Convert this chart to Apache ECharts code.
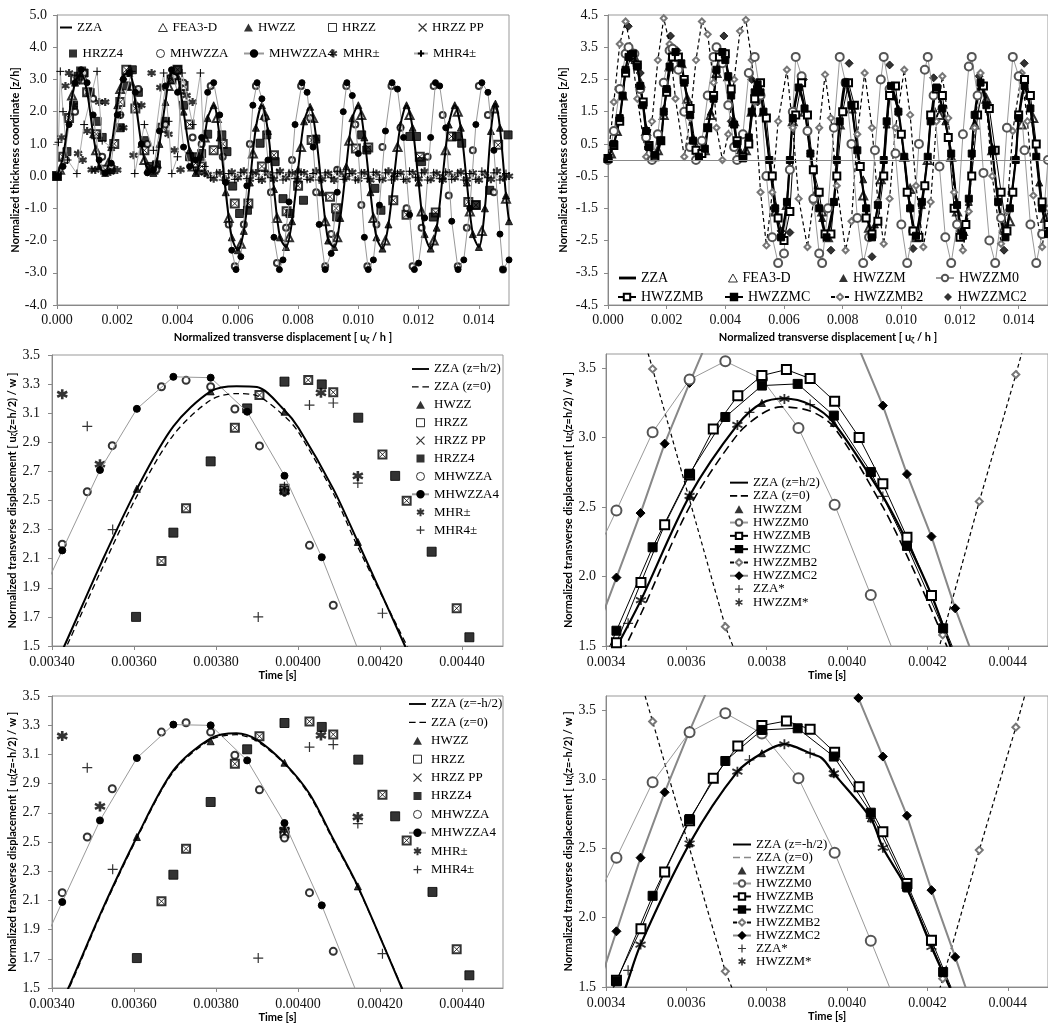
<!DOCTYPE html>
<html><head><meta charset="utf-8">
<script src="https://cdn.jsdelivr.net/npm/echarts@6/dist/echarts.min.js"></script>
<style>html,body{margin:0;padding:0;background:#fff}#c{width:1048px;height:1025px}</style>
</head><body><div id="c"></div>
<script>
// ---------------- DATA ----------------
// Panel 1 (top-left)
const p1_zza=[[0,0],[0.0002,0.6],[0.0004,1.9],[0.0006,2.9],[0.0008,3.2],[0.001,2.6],[0.0012,1.3],[0.0014,0.3],[0.0016,0.1],[0.0018,0.9],[0.002,2.2],[0.0022,3.1],[0.0024,3.2],[0.0026,2.3],[0.0028,1.0],[0.003,0.2],[0.0032,0.1],[0.0034,1.0],[0.0036,2.3],[0.0038,3.2],[0.004,3.1],[0.0042,2.0],[0.0044,0.8],[0.0046,0.1],[0.0048,0.6],[0.005,1.8],[0.0052,2.2],[0.0054,1.2],[0.0056,-0.5],[0.0058,-1.9],[0.006,-2.3],[0.0062,-1.7],[0.0064,-0.2],[0.0066,1.5],[0.0068,2.2],[0.007,1.4],[0.0072,-0.4],[0.0074,-1.9],[0.0076,-2.2],[0.0078,-1.4],[0.008,0.2],[0.0082,1.7],[0.0084,2.15],[0.0086,1.2],[0.0088,-0.5],[0.009,-2.0],[0.0092,-2.2],[0.0094,-1.3],[0.0096,0.3],[0.0098,1.8],[0.01,2.2],[0.0102,1.2],[0.0104,-0.5],[0.0106,-1.9],[0.0108,-2.25],[0.011,-1.5],[0.0112,0.1],[0.0114,1.6],[0.0116,2.2],[0.0118,1.5],[0.012,-0.2],[0.0122,-1.8],[0.0124,-2.25],[0.0126,-1.6],[0.0128,0.0],[0.013,1.6],[0.0132,2.2],[0.0134,1.5],[0.0136,-0.2],[0.0138,-1.8],[0.014,-2.2],[0.0142,-1.0],[0.0144,1.4],[0.01455,2.25],[0.0147,1.5],[0.0149,-0.6],[0.015,-1.4]];
const p1_fea=[[0.0001,0.2],[0.0005,2.5],[0.0009,3.0],[0.0013,0.8],[0.0017,0.4],[0.0021,2.7],[0.0025,2.8],[0.0029,0.5],[0.0033,0.4],[0.0037,2.8],[0.0041,2.7],[0.0045,0.3],[0.0049,1.2],[0.0053,1.8],[0.0057,-1.3],[0.0061,-2.1],[0.0065,0.7],[0.0069,1.9],[0.0073,-1.3],[0.0077,-1.9],[0.0081,0.9],[0.0085,1.8],[0.0089,-1.4],[0.0093,-1.9],[0.0097,1.1],[0.0101,1.9],[0.0105,-1.3],[0.0109,-2.0],[0.0113,0.9],[0.0117,1.9],[0.0121,-1.1],[0.0125,-2.0],[0.0129,0.8],[0.0133,2.0],[0.0137,-1.1],[0.0141,-1.7],[0.0145,2.1],[0.0149,-0.7]];
const p1_hrzz=[[0,0],[0.0002,0.6],[0.0004,1.8],[0.0006,3.0],[0.0008,3.25],[0.001,2.6],[0.0013,1.3],[0.0016,0.2],[0.0019,1.0],[0.0021,2.3],[0.0023,3.3],[0.0026,2.1],[0.0029,0.8],[0.0032,0.2],[0.0035,1.5],[0.0038,3.0],[0.004,3.3],[0.0042,2.8],[0.0044,1.6],[0.0046,0.4],[0.0048,0.3],[0.0052,0.8],[0.0055,1.0],[0.0059,-0.85],[0.00635,-0.85],[0.0068,0.3],[0.0072,0.65],[0.00762,-1.09],[0.008,-0.3],[0.00845,1.12],[0.00906,-0.64],[0.00926,-1.0],[0.00992,0.86],[0.01033,0.89],[0.01116,-0.75],[0.0116,-1.2],[0.01204,0.6],[0.01257,-1.13],[0.01309,1.23],[0.01365,-0.8],[0.0139,-0.9],[0.01464,0.97]];
const p1_hrzz4=[[0,0],[0.00033,0.76],[0.00055,2.2],[0.0007,3.1],[0.0009,3.2],[0.0011,2.6],[0.00133,1.7],[0.0015,1.2],[0.0018,0.2],[0.0021,1.5],[0.0023,2.8],[0.0025,3.3],[0.0027,2.6],[0.0029,1.1],[0.0031,0.3],[0.0033,0.35],[0.0036,1.7],[0.0038,3.0],[0.004,3.3],[0.0042,2.2],[0.0044,0.6],[0.0046,0.6],[0.0048,0.7],[0.005,1.3],[0.00547,1.28],[0.00564,0.76],[0.00583,-0.31],[0.00606,-1.16],[0.00632,-1.06],[0.00674,1.02],[0.00696,1.28],[0.00724,0.45],[0.0075,-0.7],[0.00773,-1.16],[0.00818,-0.75],[0.00859,1.15],[0.00928,-1.27],[0.01011,1.28],[0.01028,0.81],[0.01055,-0.38],[0.01075,-1.06],[0.01171,1.23],[0.01193,1.23],[0.0121,0.45],[0.01249,-1.27],[0.01326,1.23],[0.01343,1.02],[0.0139,-0.9],[0.01436,-0.44],[0.01497,1.28]];
const p1_mhwzza=[[0,0],[0.0003,0.5],[0.0006,2.0],[0.0009,3.2],[0.0012,2.4],[0.0015,0.6],[0.0018,0.3],[0.0021,1.9],[0.0024,3.2],[0.0027,2.7],[0.003,1.0],[0.0033,0.2],[0.0036,1.6],[0.0039,3.1],[0.0042,2.9],[0.0045,1.2],[0.0048,1.0],[0.0051,2.8],[0.0055,0.6],[0.0057,-1.5],[0.0059,-2.8],[0.0062,-1.5],[0.0064,1.0],[0.0066,2.8],[0.0069,1.8],[0.0071,-0.5],[0.0073,-2.7],[0.0076,-1.6],[0.0078,0.5],[0.0081,2.8],[0.0084,1.8],[0.0086,-0.5],[0.0089,-2.8],[0.0091,-1.8],[0.0093,0.2],[0.0096,2.8],[0.0099,1.6],[0.0101,-0.9],[0.0103,-2.8],[0.0106,-1.5],[0.0108,0.9],[0.0111,2.8],[0.0114,1.5],[0.0116,-1.0],[0.0118,-2.8],[0.0121,-1.6],[0.0123,0.6],[0.0125,2.8],[0.0128,1.9],[0.013,-0.6],[0.0133,-2.8],[0.0136,-1.6],[0.0138,0.8],[0.014,2.8],[0.0143,1.9],[0.0145,-0.5],[0.0148,-2.9]];
const p1_mhwzza4=[[0,0],[0.0002,0.3],[0.0004,1.6],[0.0006,2.9],[0.0008,3.3],[0.001,2.9],[0.0012,1.9],[0.0014,0.5],[0.0016,0.1],[0.0018,0.4],[0.002,1.9],[0.0022,3.0],[0.0024,3.2],[0.0026,2.6],[0.0028,1.0],[0.003,0.1],[0.0032,0.2],[0.0034,1.4],[0.0036,2.8],[0.0038,3.3],[0.004,2.6],[0.0042,0.9],[0.0044,0.3],[0.0046,0.5],[0.0048,1.2],[0.005,2.6],[0.0052,2.9],[0.0054,1.9],[0.0056,-0.2],[0.0058,-2.3],[0.00594,-2.9],[0.0061,-2.5],[0.0063,-0.3],[0.0065,2.2],[0.00664,2.9],[0.0068,2.4],[0.007,0.5],[0.0072,-1.9],[0.00738,-2.9],[0.0075,-2.6],[0.0077,-0.8],[0.0079,1.6],[0.00813,2.9],[0.0083,2.6],[0.0085,0.9],[0.0087,-1.5],[0.0089,-2.9],[0.0091,-2.4],[0.0093,-0.5],[0.0095,2.0],[0.00962,2.9],[0.0098,2.5],[0.01,0.7],[0.0102,-1.9],[0.01033,-2.9],[0.0105,-2.6],[0.0107,-0.9],[0.0109,1.4],[0.01112,2.9],[0.0113,2.7],[0.0115,1.2],[0.0117,-1.2],[0.01186,-2.9],[0.012,-2.7],[0.0122,-1.3],[0.0124,1.2],[0.01256,2.9],[0.0127,2.8],[0.0129,1.5],[0.0131,-1.4],[0.01331,-2.9],[0.0135,-2.6],[0.0137,-1.0],[0.0139,1.6],[0.0141,2.9],[0.0143,2.6],[0.0145,0.8],[0.0147,-1.8],[0.0148,-2.9],[0.015,-2.6]];
const p1_mhr=[[0,0],[0.00015,1.2],[0.00028,2.8],[0.0004,3.2],[0.00055,2.2],[0.0007,0.7],[0.00085,0.5],[0.001,1.4],[0.00115,0.2],[0.00127,0.19],[0.0014,2.3],[0.0016,2.3],[0.00177,0.13],[0.002,0.19],[0.0022,1.5],[0.00254,0.65],[0.0028,2.2],[0.00314,3.2],[0.00343,2.75],[0.0037,1.3],[0.0039,0.8],[0.0041,0.2],[0.0043,2.5],[0.0045,2.3],[0.0047,0.1],[0.0049,0.1],[0.005,0.05],[0.0052,-0.08],[0.0054,0.1],[0.0056,-0.1],[0.0058,0.12],[0.006,-0.05],[0.0062,0.15],[0.0064,-0.1],[0.0066,0.1],[0.0068,-0.12],[0.007,0.08],[0.0072,-0.1],[0.0074,0.15],[0.0076,-0.05],[0.0078,0.1],[0.008,-0.12],[0.0082,0.1],[0.0084,-0.08],[0.0086,0.15],[0.0088,-0.1],[0.009,0.08],[0.0092,-0.12],[0.0094,0.1],[0.0096,-0.05],[0.0098,0.12],[0.01,-0.1],[0.0102,0.1],[0.0104,-0.12],[0.0106,0.08],[0.0108,-0.1],[0.011,0.15],[0.0112,-0.05],[0.0114,0.1],[0.0116,-0.12],[0.0118,0.1],[0.012,-0.08],[0.0122,0.15],[0.0124,-0.1],[0.0126,0.08],[0.0128,-0.12],[0.013,0.1],[0.0132,-0.05],[0.0134,0.12],[0.0136,-0.1],[0.0138,0.1],[0.014,-0.12],[0.0142,0.08],[0.0144,-0.1],[0.0146,0.15],[0.0148,-0.05],[0.015,0.0]];
const p1_mhr4=[[0,0],[0.00005,1.05],[0.00011,3.25],[0.0002,2.0],[0.00035,0.5],[0.00066,0.08],[0.0009,1.6],[0.00133,3.25],[0.0015,1.1],[0.0018,0.9],[0.0021,1.9],[0.00248,3.25],[0.00258,0.08],[0.0029,1.6],[0.0032,0.8],[0.00354,3.2],[0.0037,1.7],[0.00381,0.08],[0.004,0.6],[0.00415,3.2],[0.0045,1.6],[0.00476,3.2],[0.0049,0.3],[0.0051,-0.05],[0.0053,0.1],[0.0055,-0.12],[0.0057,0.08],[0.0059,-0.1],[0.0061,0.12],[0.0063,-0.08],[0.0065,0.1],[0.0067,-0.1],[0.0069,0.15],[0.0071,-0.05],[0.0073,0.1],[0.0075,-0.12],[0.0077,0.1],[0.0079,-0.08],[0.0081,0.12],[0.0083,-0.1],[0.0085,0.08],[0.0087,-0.12],[0.0089,0.1],[0.0091,-0.05],[0.0093,0.15],[0.0095,-0.1],[0.0097,0.08],[0.0099,-0.12],[0.0101,0.1],[0.0103,-0.08],[0.0105,0.12],[0.0107,-0.1],[0.0109,0.1],[0.0111,-0.12],[0.0113,0.08],[0.0115,-0.1],[0.0117,0.15],[0.0119,-0.05],[0.0121,0.1],[0.0123,-0.12],[0.0125,0.1],[0.0127,-0.08],[0.0129,0.12],[0.0131,-0.1],[0.0133,0.1],[0.0135,-0.12],[0.0137,0.08],[0.0139,-0.1],[0.0141,0.15],[0.0143,-0.05],[0.0145,0.1],[0.0147,-0.12],[0.0149,0.08]];

// Panel 2 (top-right)
const p2_main=[[0,0.05],[0.0002,0.5],[0.0004,1.3],[0.0005,2.0],[0.0006,2.8],[0.0007,3.2],[0.00085,3.3],[0.001,2.9],[0.0011,2.3],[0.0012,1.7],[0.0013,0.9],[0.0014,0.4],[0.0016,0.15],[0.0018,0.6],[0.0019,1.5],[0.002,2.2],[0.0021,2.9],[0.0023,3.35],[0.0025,3.0],[0.0026,2.4],[0.0028,1.4],[0.0029,0.6],[0.0031,0.1],[0.0033,0.35],[0.0034,1.0],[0.0036,1.9],[0.0037,2.8],[0.0039,3.35],[0.004,3.1],[0.0041,2.6],[0.0042,2.0],[0.0043,1.1],[0.0044,0.5],[0.0046,0.05],[0.0048,0.7],[0.0049,1.5],[0.005,2.1],[0.0051,2.35],[0.0052,2.1],[0.0053,1.5],[0.0055,0.0],[0.0057,-1.5],[0.0059,-2.4],[0.0061,-1.3],[0.0062,0.0],[0.0063,1.3],[0.0065,2.25],[0.0067,1.6],[0.0069,0.2],[0.0072,-1.5],[0.00745,-2.4],[0.0077,-1.3],[0.0078,0.0],[0.0079,1.2],[0.0081,2.4],[0.0083,1.7],[0.0085,0.3],[0.0088,-1.5],[0.009,-2.4],[0.0092,-1.4],[0.0094,0.0],[0.0095,1.2],[0.00965,2.3],[0.0099,1.5],[0.0101,0.1],[0.0103,-1.5],[0.0105,-2.35],[0.0107,-1.3],[0.0109,0.1],[0.011,1.2],[0.0112,2.25],[0.0114,1.6],[0.0117,0.2],[0.0119,-1.4],[0.0121,-2.35],[0.0123,-1.2],[0.0124,0.2],[0.0125,1.4],[0.0127,2.4],[0.0129,1.7],[0.0131,0.3],[0.0133,-1.3],[0.01355,-2.4],[0.0137,-1.5],[0.0139,0.0],[0.014,1.3],[0.0142,2.3],[0.0144,1.6],[0.0146,0.1],[0.0148,-1.5],[0.015,-2.3]];
const p2_hwzzm=[[0.0003,0.9],[0.0009,3.1],[0.0013,1.0],[0.0019,1.6],[0.0025,3.0],[0.0029,0.7],[0.0035,1.5],[0.0041,2.6],[0.0045,0.3],[0.0051,2.3],[0.0057,-1.4],[0.0061,-1.4],[0.0063,1.3],[0.0069,0.3],[0.0073,-1.8],[0.0077,-1.3],[0.0083,1.7],[0.0087,-0.6],[0.0091,-2.0],[0.0095,1.1],[0.0099,1.6],[0.0103,-1.4],[0.0107,-1.4],[0.0111,1.6],[0.0115,1.2],[0.0119,-1.3],[0.0123,-1.3],[0.0127,2.3],[0.0131,0.4],[0.0135,-2.2],[0.0139,0.1],[0.0143,2.0],[0.0147,-0.7]];
const p2_fea=[[0.0001,0.2],[0.0003,0.9],[0.0005,2.0],[0.0009,3.2],[0.0011,2.4],[0.0013,0.9],[0.0017,0.3],[0.0019,1.4],[0.0021,2.9],[0.0025,3.0],[0.0027,1.9],[0.0029,0.6],[0.0033,0.3],[0.0035,1.4],[0.0037,2.7],[0.0041,2.6],[0.0043,1.2],[0.0047,0.3],[0.0049,1.5],[0.0053,1.5],[0.0057,-1.6],[0.0061,-1.4],[0.0063,1.2],[0.0067,1.5],[0.0071,-1.0],[0.0073,-1.6],[0.0075,-2.4],[0.0079,1.1],[0.0083,1.6],[0.0087,-1.1],[0.0089,-2.1],[0.0093,-0.6],[0.0097,2.0],[0.0101,0.1],[0.0103,-0.9],[0.0105,-2.4],[0.0109,0.0],[0.0113,1.4],[0.0117,0.1],[0.0119,-1.6],[0.0121,-2.2],[0.0125,1.1],[0.0129,1.9],[0.0131,0.3],[0.0135,-2.1],[0.0137,-1.9],[0.0141,1.1],[0.0145,1.3],[0.0149,-1.8]];
const p2_m0=[[0,0],[0.0002,0.9],[0.0004,2.2],[0.0006,3.3],[0.0007,3.5],[0.0009,3.3],[0.0011,2.2],[0.0013,0.7],[0.0015,0.0],[0.0017,0.8],[0.0019,2.4],[0.0021,3.4],[0.0022,3.45],[0.0024,2.8],[0.0026,1.5],[0.0028,0.4],[0.003,0.0],[0.0032,0.6],[0.0034,2.0],[0.0036,3.2],[0.0037,3.5],[0.0039,3.0],[0.0041,1.7],[0.0043,0.4],[0.0044,0.0],[0.0046,0.8],[0.0048,2.7],[0.005,3.2],[0.0052,2.0],[0.0054,-0.5],[0.0056,-2.4],[0.0058,-3.2],[0.006,-2.9],[0.0062,-0.3],[0.0063,1.5],[0.0064,3.2],[0.0066,2.6],[0.0068,0.9],[0.007,-1.2],[0.0072,-2.9],[0.0073,-3.2],[0.0075,-1.5],[0.0077,1.0],[0.0079,3.2],[0.0081,2.4],[0.0083,0.5],[0.0085,-1.8],[0.0087,-3.2],[0.0089,-2.4],[0.0091,0.3],[0.0093,2.5],[0.0094,3.2],[0.0096,2.2],[0.0098,0.2],[0.01,-2.0],[0.0102,-3.2],[0.0104,-2.2],[0.0106,0.5],[0.0108,2.8],[0.0109,3.2],[0.0111,2.0],[0.0113,-0.2],[0.0115,-2.4],[0.0117,-3.2],[0.0119,-2.0],[0.0121,0.8],[0.0123,2.9],[0.0124,3.2],[0.0126,2.0],[0.0128,-0.4],[0.013,-2.5],[0.0132,-3.2],[0.0134,-1.8],[0.0136,1.0],[0.0138,3.2],[0.014,2.6],[0.0142,0.3],[0.0144,-2.0],[0.0146,-3.2],[0.0148,-2.3],[0.015,0.0]];
const p2_mb=[[0,0.05],[0.0002,0.45],[0.0004,1.2],[0.0006,2.7],[0.0008,3.25],[0.001,2.95],[0.0012,1.8],[0.0014,0.45],[0.0016,0.1],[0.0018,0.6],[0.002,2.1],[0.0022,3.2],[0.0024,3.2],[0.0026,2.5],[0.0028,1.6],[0.003,0.3],[0.0032,0.2],[0.0034,1.0],[0.0036,2.0],[0.0038,3.2],[0.004,3.3],[0.0042,2.2],[0.0044,0.6],[0.0046,0.1],[0.0048,0.5],[0.005,1.9],[0.0052,2.4],[0.0054,1.3],[0.0056,-0.5],[0.0058,-1.8],[0.006,-2.5],[0.0062,-1.6],[0.0064,1.4],[0.0066,2.4],[0.0068,1.4],[0.007,-0.3],[0.0072,-1.0],[0.0074,-2.3],[0.0076,-2.3],[0.0078,-0.5],[0.008,1.5],[0.0082,2.4],[0.0084,1.7],[0.0086,-0.2],[0.0088,-1.8],[0.009,-2.3],[0.0092,-1.9],[0.0094,-0.5],[0.0096,2.0],[0.0098,2.3],[0.01,0.8],[0.0102,-1.0],[0.0104,-2.2],[0.0106,-2.4],[0.0108,-0.8],[0.011,1.4],[0.0112,2.2],[0.0114,2.0],[0.0116,0.7],[0.0118,-1.5],[0.012,-2.4],[0.0122,-2.0],[0.0124,-0.5],[0.0126,1.4],[0.0128,2.3],[0.013,1.6],[0.0132,0.3],[0.0134,-1.0],[0.0136,-2.2],[0.0138,-1.0],[0.014,1.4],[0.0142,2.5],[0.0144,2.0],[0.0146,0.5],[0.0148,-1.3],[0.015,-2.0]];
const p2_mb2=[[0,0],[0.0002,1.8],[0.0004,3.6],[0.0006,4.3],[0.0008,3.4],[0.001,1.9],[0.0013,0.1],[0.0015,1.2],[0.0017,3.1],[0.0019,4.4],[0.0021,3.6],[0.0023,1.9],[0.0026,0.1],[0.0028,1.3],[0.003,3.1],[0.0032,4.3],[0.0034,3.9],[0.0036,2.4],[0.0037,1.0],[0.0039,0.0],[0.0041,0.8],[0.0043,2.5],[0.0045,4.0],[0.0047,4.35],[0.0049,3.1],[0.005,1.8],[0.0052,-1.0],[0.0054,-2.65],[0.0056,-1.0],[0.0058,1.2],[0.0061,2.8],[0.0063,1.0],[0.0065,-1.2],[0.0068,-2.7],[0.007,-1.3],[0.0072,1.0],[0.0074,2.65],[0.0076,1.3],[0.0078,-0.8],[0.0081,-2.8],[0.0083,-1.9],[0.0085,0.8],[0.00875,2.7],[0.009,1.0],[0.0092,-1.3],[0.0094,-2.6],[0.0096,-1.2],[0.0098,1.0],[0.0101,2.8],[0.0103,1.4],[0.0105,-0.8],[0.01075,-2.7],[0.011,-1.3],[0.0112,1.2],[0.0114,2.6],[0.0116,1.3],[0.0118,-1.0],[0.0121,-2.8],[0.0123,-1.6],[0.0125,1.0],[0.0127,2.7],[0.0129,1.7],[0.0131,-0.5],[0.0134,-2.6],[0.0136,-1.6],[0.0138,0.9],[0.0141,2.7],[0.0143,1.2],[0.0145,-1.1],[0.0148,-2.7],[0.015,-1.5]];
const p2_mc2=[[0.00069,4.15],[0.0011,2.7],[0.00213,3.85],[0.00235,3.4],[0.00395,3.85],[0.0042,1.2],[0.0049,2.5],[0.0051,1.8],[0.0059,-2.2],[0.0062,-2.25],[0.00666,2.5],[0.0076,-2.8],[0.00822,3.0],[0.009,-3.0],[0.0096,2.95],[0.0104,-2.75],[0.0111,2.55],[0.012,-2.2],[0.01265,2.6],[0.0135,-2.8],[0.01419,3.0]];

// Panel 3 (middle-left)
const p3_zzaTop=[[0.00342,1.45],[0.00343,1.5],[0.00352,2.07],[0.003607,2.58],[0.003696,3.01],[0.003787,3.25],[0.00385,3.285],[0.0039,3.28],[0.003967,3.12],[0.004001,3.0],[0.004086,2.58],[0.004146,2.215],[0.004261,1.5],[0.00427,1.44]];
const p3_zzaMid=[[0.003426,1.45],[0.003436,1.5],[0.00352,2.02],[0.003607,2.53],[0.003696,2.95],[0.003787,3.19],[0.00385,3.235],[0.0039,3.22],[0.003967,3.08],[0.004001,2.97],[0.004086,2.55],[0.004146,2.18],[0.004266,1.5],[0.004275,1.44]];
const p3_hwzz=[[0.003607,2.58],[0.003787,3.25],[0.003967,3.11],[0.004146,2.215]];
const p3_hrzz=[[0.003667,2.084],[0.003727,2.446],[0.003846,3.0],[0.003906,3.225],[0.003967,2.58],[0.004025,3.328],[0.004086,3.244],[0.004206,2.817],[0.004265,2.499],[0.004387,1.759]];
const p3_hrzz4=[[0.003605,1.70],[0.003696,2.279],[0.003787,2.769],[0.003876,3.133],[0.003967,3.317],[0.004058,3.298],[0.004147,3.069],[0.004237,2.669],[0.004326,2.148],[0.004418,1.56]];
const p3_mhwzza=[[0.003425,2.20],[0.003486,2.56],[0.003547,2.877],[0.003667,3.282],[0.003727,3.326],[0.003787,3.282],[0.003846,3.129],[0.003906,2.875],[0.003967,2.56],[0.004028,2.192],[0.004086,1.78]];
const p3_mhwzza4=[[0.003335,1.62],[0.003425,2.157],[0.003517,2.71],[0.003607,3.13],[0.003696,3.35],[0.003787,3.344],[0.003876,3.11],[0.003967,2.67],[0.004058,2.11],[0.00415,1.45]];
const p3_mhr=[[0.003425,3.23],[0.003517,2.75],[0.003967,2.56],[0.004056,3.24],[0.004146,2.669]];
const p3_mhr4=[[0.003486,3.01],[0.003548,2.30],[0.003903,1.70],[0.003967,2.595],[0.004028,3.156],[0.004086,3.17],[0.004146,2.62],[0.004206,1.725]];

// Panel 4 (middle-right)
const p4_zzaTop=[[0.00342,1.45],[0.003428,1.5],[0.003487,1.83],[0.003608,2.58],[0.003727,3.09],[0.003788,3.248],[0.003844,3.28],[0.003908,3.236],[0.003967,3.104],[0.004089,2.576],[0.004149,2.25],[0.00421,1.867],[0.004257,1.5],[0.004265,1.44]];
const p4_zzaMid=[[0.00344,1.45],[0.003449,1.5],[0.00349,1.75],[0.003608,2.5],[0.003727,3.02],[0.003788,3.17],[0.003835,3.22],[0.003908,3.19],[0.003967,3.075],[0.004089,2.5],[0.004149,2.15],[0.00421,1.76],[0.004248,1.5],[0.004256,1.44]];
const p4_hwzzm=[[0.003608,2.58],[0.003788,3.248],[0.003967,3.104],[0.004149,2.25]];
const p4_hwzzm0=[[0.003335,1.92],[0.003426,2.475],[0.003516,3.037],[0.003608,3.416],[0.003697,3.548],[0.003788,3.42],[0.003879,3.068],[0.003969,2.516],[0.004059,1.867],[0.00415,1.21]];
const p4_hwzzmb=[[0.003366,1.1],[0.003426,1.524],[0.003487,1.956],[0.003546,2.372],[0.003608,2.73],[0.003667,3.06],[0.003728,3.30],[0.003788,3.445],[0.003849,3.488],[0.003908,3.423],[0.003969,3.26],[0.00403,3.0],[0.004089,2.667],[0.004149,2.283],[0.00421,1.863],[0.00427,1.44]];
const p4_hwzzmc=[[0.003335,1.0],[0.003426,1.61],[0.003516,2.21],[0.003608,2.739],[0.003697,3.147],[0.003788,3.373],[0.003877,3.385],[0.003967,3.157],[0.004059,2.751],[0.004149,2.22],[0.004239,1.627],[0.00433,1.0]];
const p4_hwzzmc2=[[0.003366,1.53],[0.003426,1.992],[0.003486,2.456],[0.003546,2.955],[0.003608,3.392],[0.003668,3.8],[0.00373,4.1],[0.00379,4.25],[0.00385,4.25],[0.00391,4.15],[0.00397,3.95],[0.004028,3.65],[0.004089,3.229],[0.004149,2.736],[0.00421,2.287],[0.004269,1.771],[0.00433,1.3]];
const p4_hwzzmb2=[[0.003335,5.3],[0.003516,3.493],[0.003697,1.639],[0.003878,0.3],[0.004058,-0.2],[0.004238,1.58],[0.004329,2.54],[0.00442,3.452],[0.00451,4.4]];
const p4_zzaStar=[[0.003455,1.663],[0.003757,3.18],[0.003908,3.236],[0.004089,2.576]];
const p4_hwzzmStar=[[0.003487,1.83],[0.003608,2.58],[0.003727,3.09],[0.003844,3.277],[0.004059,2.74],[0.00421,1.867]];

// Panel 5 (bottom-left)
const p5_zzaBot=[[0.00343,1.45],[0.00344,1.5],[0.00352,2.02],[0.003607,2.534],[0.003696,2.99],[0.003787,3.21],[0.00385,3.245],[0.0039,3.2],[0.003967,3.04],[0.004028,2.83],[0.004086,2.52],[0.004146,2.196],[0.004253,1.5],[0.004262,1.44]];
const p5_zzaMid=[[0.003432,1.45],[0.003442,1.5],[0.00352,2.01],[0.003607,2.525],[0.003696,2.98],[0.003787,3.2],[0.00385,3.235],[0.0039,3.19],[0.003967,3.035],[0.004028,2.82],[0.004086,2.51],[0.004146,2.19],[0.004254,1.5],[0.004263,1.44]];
const p5_hwzz=[[0.003607,2.534],[0.003787,3.19],[0.003967,3.043],[0.004146,2.196]];
const p5_hrzz=[[0.003667,2.094],[0.003727,2.454],[0.003846,3.036],[0.003906,3.224],[0.003967,2.56],[0.004028,3.326],[0.004086,3.237],[0.004206,2.824],[0.004265,2.511],[0.004387,1.765]];
const p5_hrzz4=[[0.003607,1.705],[0.003696,2.276],[0.003787,2.774],[0.003876,3.135],[0.003967,3.315],[0.004058,3.288],[0.004147,3.064],[0.004237,2.676],[0.004328,2.158],[0.004418,1.587]];
const p5_mhwzza=[[0.003425,2.153],[0.003486,2.534],[0.003547,2.865],[0.003667,3.253],[0.003727,3.317],[0.003787,3.253],[0.003846,3.094],[0.003906,2.858],[0.003967,2.527],[0.004028,2.153],[0.004086,1.751]];
const p5_mhwzza4=[[0.003335,1.54],[0.003425,2.089],[0.003517,2.648],[0.003607,3.075],[0.003696,3.304],[0.003787,3.299],[0.003876,3.059],[0.003967,2.63],[0.004058,2.066],[0.00415,1.42]];
const p5_mhr=[[0.003425,3.226],[0.003517,2.744],[0.003967,2.58],[0.004056,3.23],[0.004146,2.671]];
const p5_mhr4=[[0.003486,3.009],[0.003548,2.313],[0.003903,1.705],[0.003967,2.6],[0.004028,3.15],[0.004086,3.167],[0.004146,2.626],[0.004206,1.735]];

// Panel 6 (bottom-right)
const p6_zzaBot=[[0.00344,1.45],[0.003449,1.5],[0.003486,1.806],[0.003608,2.536],[0.003727,3.054],[0.003788,3.187],[0.003844,3.252],[0.003908,3.187],[0.003938,3.15],[0.003967,3.042],[0.004059,2.717],[0.004089,2.505],[0.004149,2.21],[0.00421,1.789],[0.004255,1.5],[0.004264,1.44]];
const p6_zzaMid=[[0.003441,1.45],[0.00345,1.5],[0.003486,1.8],[0.003608,2.53],[0.003727,3.05],[0.003788,3.18],[0.003844,3.245],[0.003908,3.18],[0.003938,3.14],[0.003967,3.035],[0.004059,2.71],[0.004089,2.5],[0.004149,2.2],[0.00421,1.78],[0.004254,1.5],[0.004263,1.44]];
const p6_hwzzm=[[0.003608,2.536],[0.003788,3.187],[0.003967,3.042],[0.004059,2.717],[0.004149,2.21]];
const p6_hwzzm0=[[0.003335,1.88],[0.003426,2.433],[0.003516,2.977],[0.003608,3.339],[0.003697,3.476],[0.003788,3.33],[0.003879,3.006],[0.003969,2.469],[0.004059,1.833],[0.00415,1.18]];
const p6_hwzzmb=[[0.003366,1.15],[0.003426,1.548],[0.003487,1.92],[0.003546,2.33],[0.003608,2.70],[0.003667,3.006],[0.003728,3.24],[0.003788,3.387],[0.003849,3.42],[0.003908,3.36],[0.003969,3.194],[0.00403,2.946],[0.004089,2.62],[0.004149,2.247],[0.00421,1.837],[0.00427,1.42]];
const p6_hwzzmc=[[0.003335,0.95],[0.003426,1.541],[0.003516,2.158],[0.003608,2.712],[0.003697,3.131],[0.003788,3.355],[0.003877,3.367],[0.003967,3.163],[0.004059,2.758],[0.004149,2.223],[0.004239,1.608],[0.00433,0.98]];
const p6_hwzzmc2=[[0.003366,1.37],[0.003426,1.902],[0.003486,2.433],[0.003546,2.905],[0.003608,3.348],[0.003668,3.75],[0.00373,4.05],[0.00379,4.2],[0.00385,4.2],[0.00391,4.1],[0.00397,3.9],[0.004028,3.586],[0.004089,3.163],[0.004149,2.736],[0.00421,2.199],[0.004269,1.717],[0.00433,1.2]];
const p6_hwzzmb2=[[0.003335,5.2],[0.003516,3.416],[0.003697,1.613],[0.003878,0.3],[0.004058,-0.2],[0.004238,1.56],[0.004329,2.488],[0.00442,3.375],[0.00451,4.3]];
const p6_zzaStar=[[0.003455,1.62],[0.003757,3.139],[0.003908,3.187],[0.004059,2.717]];
const p6_hwzzmStar=[[0.003486,1.806],[0.003608,2.536],[0.003727,3.054],[0.003844,3.252],[0.003967,3.042],[0.004089,2.505],[0.00421,1.789]];

// ---------------- CHART ----------------
const FS='Liberation Serif', FT='Lato';
const X_PATH='path://M0,0L10,10M10,0L0,10';
const PLUS_PATH='path://M5,0L5,10M0,5L10,5';
const AST_PATH='path://M5,0L5,10M0.7,2.5L9.3,7.5M0.7,7.5L9.3,2.5';
const TRI_PATH='path://M5,0L10,9L0,9Z';
const RECT_PATH='path://M0,0L10,0L10,10L0,10Z';
const CIRC_PATH='path://M0,5A5,5,0,1,0,10,5A5,5,0,1,0,0,5Z';
const DIAM_PATH='path://M5,0L10,5L5,10L0,5Z';
const LINE_SHORT='path://M0,0L12,0L12,2L0,2Z';
const LINE_ICON='path://M0,0L20,0L20,2.2L0,2.2Z';
const DASH_ICON='path://M0,0L7,0L7,1.4L0,1.4ZM11,0L18,0L18,1.4L11,1.4Z';
const LDASH_ICON='path://M0,0L8,0L8,2L0,2ZM12,0L20,0L20,2L12,2Z';

const grids=[
 {left:57,top:15,width:452,height:290},
 {left:608,top:15,width:446,height:290},
 {left:52,top:355,width:451,height:291},
 {left:606,top:354,width:449,height:292},
 {left:52,top:696,width:451,height:292},
 {left:606,top:696,width:449,height:291}
];
const titleStyle={fontFamily:FT,fontWeight:'bold',fontSize:11,color:'#000',
  rich:{s:{fontFamily:FT,fontWeight:'bold',fontSize:8,color:'#000',verticalAlign:'bottom',padding:[5,0,0,0]}}};
function xAx(gi,min,max,interval,dec,name,gap,margin){
  return {type:'value',gridIndex:gi,min,max,interval,name,nameLocation:'middle',nameGap:gap,nameTextStyle:titleStyle,
    axisLine:{show:true,onZero:false,lineStyle:{color:'#888'}},
    axisTick:{show:true,length:4,lineStyle:{color:'#888'}},
    axisLabel:{fontFamily:FS,fontSize:14,color:'#111',margin,showMaxLabel:false,formatter:v=>v.toFixed(dec)},
    splitLine:{show:false}};
}
function yAx(gi,min,max,interval,name,gap,margin,showMax){
  return {type:'value',gridIndex:gi,min,max,interval,name,nameLocation:'middle',nameRotate:90,nameGap:gap,nameTextStyle:titleStyle,
    axisLine:{show:true,onZero:false,lineStyle:{color:'#888'}},
    axisTick:{show:true,length:4,lineStyle:{color:'#888'}},
    axisLabel:{fontFamily:FS,fontSize:14,color:'#111',margin,showMaxLabel:showMax,formatter:v=>v.toFixed(1)},
    splitLine:{show:false}};
}
const xName1='Normalized transverse displacement [ u{s|ζ} / h ]';
const yName1='Normalized thickness coordinate [z/h]';
const yNameTop='Normalized transverse displacement [ u{s|ζ}(z=h/2) / w ]';
const yNameBot='Normalized transverse displacement [ u{s|ζ}(z=-h/2) / w ]';

function L(name,data,gi,o){return Object.assign({name,data,type:'line',xAxisIndex:gi,yAxisIndex:gi,clip:true,silent:true,animation:false},o);}
function lineOnly(name,data,gi,color,width,type,smooth){return L(name,data,gi,{symbol:'none',smooth:smooth||false,itemStyle:{color},lineStyle:{color,width,type:type||'solid'}});}
function lineMk(name,data,gi,lc,lw,lt,sym,size,fill,stroke){return L(name,data,gi,{symbol:sym,symbolSize:size,showSymbol:true,lineStyle:{color:lc,width:lw,type:lt||'solid'},itemStyle:{color:fill,borderColor:stroke||fill,borderWidth:1}});}
function sc(name,data,gi,sym,size,fill,stroke,bw){return {name,data,type:'scatter',xAxisIndex:gi,yAxisIndex:gi,clip:true,silent:true,animation:false,symbol:sym,symbolSize:size,itemStyle:{color:fill,borderColor:stroke||fill,borderWidth:bw||1}};}

const series=[
 // panel 1
 lineMk('MHR4±',p1_mhr4,0,'#aaa',1,'solid',PLUS_PATH,8,'#000','#000'),
 lineMk('MHWZZA4',p1_mhwzza4,0,'#999',1,'solid','circle',6,'#000'),
 lineOnly('ZZA',p1_zza,0,'#000',2,'solid',0.3),
 sc('FEA3-D',p1_fea,0,'emptyTriangle',8,'#000','#000'),
 sc('HWZZ',p1_zza,0,'triangle',7,'#000'),
 sc('HRZZ',p1_hrzz,0,'emptyRect',8,'#000','#000'),
 sc('HRZZ PP',p1_hrzz,0,X_PATH,6,'#000','#000'),
 sc('HRZZ4',p1_hrzz4,0,'rect',8,'#000'),
 sc('MHWZZA',p1_mhwzza,0,'emptyCircle',6,'#000','#000'),
 sc('MHR±',p1_mhr,0,AST_PATH,8,'#000','#000',2.2),
 // panel 2
 lineMk('HWZZMB2',p2_mb2,1,'#000',1.2,[4,3],'emptyDiamond',6,'#777','#777'),
 lineMk('HWZZM0',p2_m0,1,'#999',1,'solid','emptyCircle',8,'#555','#555'),
 lineMk('HWZZMB',p2_mb,1,'#000',1,'solid','emptyRect',7,'#000'),
 Object.assign(lineOnly('ZZA',p2_main,1,'#000',2.2,'solid',0.3),{markLine:{silent:true,symbol:'none',label:{show:false},lineStyle:{color:'#888',width:1,type:'solid'},data:[{yAxis:0}]}}),
 lineMk('HWZZMC',p2_main,1,'#000',1.5,'solid','rect',7,'#000'),
 sc('HWZZM',p2_hwzzm,1,'triangle',7,'#000'),
 sc('FEA3-D',p2_fea,1,'emptyTriangle',8,'#000','#000'),
 sc('HWZZMC2',p2_mc2,1,'diamond',8,'#000'),
 // panel 3
 lineMk('MHWZZA4',p3_mhwzza4,2,'#999',1,'solid','circle',7,'#000'),
 lineOnly('ZZA (z=0)',p3_zzaMid,2,'#000',1.3,[6,4],0.3),
 lineOnly('ZZA (z=h/2)',p3_zzaTop,2,'#000',2,'solid',0.3),
 sc('HWZZ',p3_hwzz,2,'triangle',7,'#000'),
 sc('HRZZ',p3_hrzz,2,'emptyRect',8,'#000','#000'),
 sc('HRZZ PP',p3_hrzz,2,X_PATH,6,'#000','#000'),
 sc('HRZZ4',p3_hrzz4,2,'rect',9,'#000'),
 sc('MHWZZA',p3_mhwzza,2,'emptyCircle',7,'#000','#000'),
 sc('MHR±',p3_mhr,2,AST_PATH,10,'#000','#000',2.6),
 sc('MHR4± ',p3_mhr4,2,PLUS_PATH,10,'#000','#000',1.2),
 // panel 4
 lineMk('HWZZMB2',p4_hwzzmb2,3,'#000',1.2,[4,3],'emptyDiamond',7,'#777','#777'),
 lineMk('HWZZMC2 ',p4_hwzzmc2,3,'#888',2,'solid','diamond',9,'#000'),
 lineMk('HWZZM0',p4_hwzzm0,3,'#999',1,'solid','emptyCircle',10,'#555','#555'),
 lineMk('HWZZMB',p4_hwzzmb,3,'#000',1,'solid','emptyRect',9,'#000'),
 lineMk('HWZZMC',p4_hwzzmc,3,'#000',1,'solid','rect',9,'#000'),
 lineOnly('ZZA (z=0) ',p4_zzaMid,3,'#000',1.6,[9,5],0.3),
 lineOnly('ZZA (z=h/2)',p4_zzaTop,3,'#000',2.2,'solid',0.3),
 sc('HWZZM',p4_hwzzm,3,'triangle',7,'#000'),
 sc('ZZA*',p4_zzaStar,3,PLUS_PATH,10,'#000','#000',1.2),
 sc('HWZZM*',p4_hwzzmStar,3,AST_PATH,10,'#000','#000',1.8),
 // panel 5
 lineMk('MHWZZA4',p5_mhwzza4,4,'#999',1,'solid','circle',7,'#000'),
 lineOnly('ZZA (z=0)',p5_zzaMid,4,'#000',1.3,[6,4],0.3),
 lineOnly('ZZA (z=-h/2)',p5_zzaBot,4,'#000',2,'solid',0.3),
 sc('HWZZ',p5_hwzz,4,'triangle',7,'#000'),
 sc('HRZZ',p5_hrzz,4,'emptyRect',8,'#000','#000'),
 sc('HRZZ PP',p5_hrzz,4,X_PATH,6,'#000','#000'),
 sc('HRZZ4',p5_hrzz4,4,'rect',9,'#000'),
 sc('MHWZZA',p5_mhwzza,4,'emptyCircle',7,'#000','#000'),
 sc('MHR±',p5_mhr,4,AST_PATH,10,'#000','#000',2.6),
 sc('MHR4± ',p5_mhr4,4,PLUS_PATH,10,'#000','#000',1.2),
 // panel 6
 lineMk('HWZZMB2',p6_hwzzmb2,5,'#000',1.2,[4,3],'emptyDiamond',7,'#777','#777'),
 lineMk('HWZZMC2 ',p6_hwzzmc2,5,'#888',2,'solid','diamond',9,'#000'),
 lineMk('HWZZM0',p6_hwzzm0,5,'#999',1,'solid','emptyCircle',10,'#555','#555'),
 lineMk('HWZZMB',p6_hwzzmb,5,'#000',1,'solid','emptyRect',9,'#000'),
 lineMk('HWZZMC',p6_hwzzmc,5,'#000',1,'solid','rect',9,'#000'),
 lineOnly('ZZA (z=0)  ',p6_zzaMid,5,'#999',1,[5,3],0.3),
 lineOnly('ZZA (z=-h/2)',p6_zzaBot,5,'#000',2.2,'solid',0.3),
 sc('HWZZM',p6_hwzzm,5,'triangle',7,'#000'),
 sc('ZZA*',p6_zzaStar,5,PLUS_PATH,10,'#000','#000',1.2),
 sc('HWZZM*',p6_hwzzmStar,5,AST_PATH,10,'#000','#000',1.8)
];

// legend icons (only for items that are not line+marker)
const FILL={color:'#000',borderColor:'#000',borderWidth:0};
const OPEN={color:'#fff',borderColor:'#000',borderWidth:1};
const STROKE={color:'#000',borderColor:'#000',borderWidth:1.2};
const ICONS={
 'ZZA':{icon:LINE_SHORT,itemStyle:FILL},
 'FEA3-D':{icon:TRI_PATH,itemStyle:OPEN},
 'HWZZ':{icon:TRI_PATH,itemStyle:FILL},
 'HWZZM':{icon:TRI_PATH,itemStyle:FILL},
 'HRZZ':{icon:RECT_PATH,itemStyle:OPEN},
 'HRZZ PP':{icon:X_PATH,itemStyle:STROKE},
 'HRZZ4':{icon:RECT_PATH,itemStyle:FILL},
 'MHWZZA':{icon:CIRC_PATH,itemStyle:OPEN},
 'MHR±':{icon:AST_PATH,itemStyle:{color:'#000',borderColor:'#000',borderWidth:2}},
 'MHR4± ':{icon:PLUS_PATH,itemStyle:STROKE},
 'HWZZMC2':{icon:DIAM_PATH,itemStyle:FILL},
 'ZZA*':{icon:PLUS_PATH,itemStyle:STROKE},
 'HWZZM*':{icon:AST_PATH,itemStyle:{color:'#000',borderColor:'#000',borderWidth:1.6}},
 'ZZA (z=h/2)':{icon:LINE_ICON,itemStyle:FILL},
 'ZZA (z=-h/2)':{icon:LINE_ICON,itemStyle:FILL},
 'ZZA (z=0)':{icon:DASH_ICON,itemStyle:FILL},
 'ZZA (z=0) ':{icon:LDASH_ICON,itemStyle:FILL},
 'ZZA (z=0)  ':{icon:DASH_ICON,itemStyle:{color:'#888',borderWidth:0}}
};
function li(name){return ICONS[name]?Object.assign({name},ICONS[name]):{name};}
function lg1(name,textX,w,cy,fs){
  return {data:[li(name)],left:textX-5-w,top:cy-4,itemWidth:w,itemHeight:8,padding:0,itemGap:0,selectedMode:false,
    textStyle:{fontFamily:FS,fontSize:fs,color:'#000',lineHeight:8}};
}
function lgV(names,left,top,w,lh,gap,fs){
  return {orient:'vertical',data:names.map(li),left,top,itemWidth:w,itemHeight:8,itemGap:gap,padding:0,selectedMode:false,
    textStyle:{fontFamily:FS,fontSize:fs,color:'#000',lineHeight:lh}};
}
const legends=[
 lg1('ZZA',77,12,25,13), lg1('FEA3-D',172,9,25,13), lg1('HWZZ',258,9,25,13), lg1('HRZZ',342,9,25,13), lg1('HRZZ PP',432,9,25,13),
 lg1('HRZZ4',83,9,51,13), lg1('MHWZZA',170,9,51,13), lg1('MHWZZA4',268,20,51,13), lg1('MHR±',343,9,51,13), lg1('MHR4±',432,14,51,13),
 lg1('ZZA',641,17,275,14), lg1('FEA3-D',742,9,275,14), lg1('HWZZM',853,9,275,14), lg1('HWZZM0',958,18,275,14),
 lg1('HWZZMB',640,18,294,14), lg1('HWZZMC',747,18,294,14), lg1('HWZZMB2',853,18,294,14), lg1('HWZZMC2',958,9,294,14),
 lgV(['ZZA (z=h/2)','ZZA (z=0)','HWZZ','HRZZ','HRZZ PP','HRZZ4','MHWZZA','MHWZZA4','MHR±','MHR4± '],411,362,17,14,3.9,13),
 lgV(['ZZA (z=h/2)','ZZA (z=0) ','HWZZM','HWZZM0','HWZZMB','HWZZMC','HWZZMB2','HWZZMC2 ','ZZA*','HWZZM*'],729,476,18,13.3,0,13),
 lgV(['ZZA (z=-h/2)','ZZA (z=0)','HWZZ','HRZZ','HRZZ PP','HRZZ4','MHWZZA','MHWZZA4','MHR±','MHR4± '],408,697,17,14,4.4,13),
 lgV(['ZZA (z=-h/2)','ZZA (z=0)  ','HWZZM','HWZZM0','HWZZMB','HWZZMC','HWZZMB2','HWZZMC2 ','ZZA*','HWZZM*'],732,838,18,13,0,13)
];

const option={
  backgroundColor:'#fff',animation:false,
  grid:grids.map(g=>Object.assign({show:true,borderColor:'#999',borderWidth:1},g)),
  xAxis:[
    xAx(0,0,0.015,0.002,3,xName1,26,8),
    xAx(1,0,0.015,0.002,3,xName1,26,8),
    xAx(2,0.0034,0.0045,0.0002,5,'Time [s]',21,9),
    xAx(3,0.0034,0.0045,0.0002,4,'Time [s]',21,9),
    xAx(4,0.0034,0.0045,0.0002,5,'Time [s]',21,9),
    xAx(5,0.0034,0.0045,0.0002,4,'Time [s]',21,9)
  ],
  yAxis:[
    yAx(0,-4,5,1,yName1,33,10,true),
    yAx(1,-4.5,4.5,1,yName1,39,10,true),
    yAx(2,1.5,3.5,0.2,yNameTop,28,12,true),
    yAx(3,1.5,3.6,0.5,yNameTop,28,10,false),
    yAx(4,1.5,3.5,0.2,yNameBot,28,12,true),
    yAx(5,1.5,3.6,0.5,yNameBot,28,10,false)
  ],
  legend:legends,
  series
};
const chart=echarts.init(document.getElementById('c'),null,{renderer:'canvas'});
chart.setOption(option);
</script></body></html>
